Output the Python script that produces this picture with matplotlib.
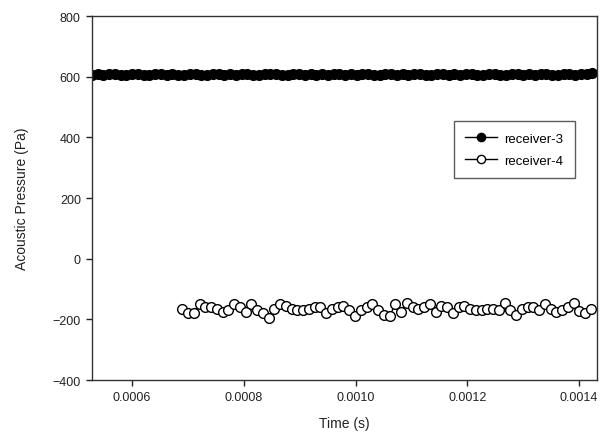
import numpy as np
import matplotlib
matplotlib.use("Agg")
import matplotlib.pyplot as plt

plt.rcParams['font.family'] = ['Liberation Sans', 'DejaVu Sans']

# receiver-3 (filled) sampled over full window
r3_t0 = 0.000528
r3_dt = 1.03e-5
r3_vals = [607, 609, 606, 608, 610, 607, 605, 608, 609, 606, 607, 610, 608, 606, 609, 607,
           605, 608, 610, 607, 606, 609, 608, 607, 610, 606, 608, 609, 607, 605, 608, 610,
           609, 607, 606, 608, 610, 607, 609, 606, 608, 607, 610, 608, 606, 609, 607, 608,
           610, 606, 607, 609, 608, 606, 610, 607, 608, 609, 606, 607, 610, 608, 607, 609,
           606, 608, 610, 607, 605, 608, 609, 607, 606, 610, 608, 607, 609, 606, 608, 610,
           607, 606, 609, 608, 607, 610, 608, 611]

# receiver-4 (open)
r4_t0 = 0.000690
r4_dt = 1.03e-5
r4_vals = [-165, -180, -178, -150, -158, -160, -165, -175, -170, -150, -160, -175,
           -150, -170, -180, -195, -165, -150, -155, -165, -170, -170, -165, -158,
           -160, -180, -165, -160, -155, -170, -190, -170, -160, -150, -170, -185,
           -190, -150, -175, -145, -160, -165, -160, -150, -175, -155, -160, -180,
           -160, -155, -165, -170, -168, -165, -165, -170, -145, -170, -185, -165,
           -160, -158, -170, -150, -165, -175, -170, -160, -145, -172, -178, -165]

r3_t = r3_t0 + r3_dt * np.arange(len(r3_vals))
r4_t = r4_t0 + r4_dt * np.arange(len(r4_vals))

fig = plt.figure(figsize=(6.09, 4.39), dpi=100)
ax = fig.add_axes([0.151, 0.132, 0.829, 0.829])

ax.plot(r3_t, r3_vals, '-o', color='black', lw=1, markersize=7,
        markerfacecolor='black', markeredgecolor='black', label='receiver-3')
ax.plot(r4_t, r4_vals, '-o', color='black', lw=1, markersize=7, markeredgewidth=1,
        markerfacecolor='white', markeredgecolor='black', label='receiver-4')

ax.set_xlim(0.000528, 0.001432)
ax.set_ylim(-400, 800)
ax.set_xticks([0.0006, 0.0008, 0.0010, 0.0012, 0.0014])
ax.set_xticklabels(['0.0006', '0.0008', '0.0010', '0.0012', '0.0014'])
ax.set_yticks([-400, -200, 0, 200, 400, 600, 800])
ax.tick_params(direction='out', length=4, width=1, labelsize=9, colors='#222222', pad=4)
for s in ax.spines.values():
    s.set_color('#333333')
    s.set_linewidth(1)

ax.set_xlabel('Time (s)', fontsize=10, color='#222222', labelpad=9)
ax.set_ylabel('Acoustic Pressure (Pa)', fontsize=10, color='#222222', labelpad=17)

leg = ax.legend(loc='upper right', bbox_to_anchor=(0.956, 0.712), borderaxespad=0,
                fontsize=9.5, frameon=True, fancybox=False, edgecolor='#333333',
                handlelength=2.4, handletextpad=0.5, borderpad=0.9, labelspacing=0.7,
                markerscale=0.85)
leg.get_frame().set_linewidth(1)

fig.savefig('out.png', dpi=100)
